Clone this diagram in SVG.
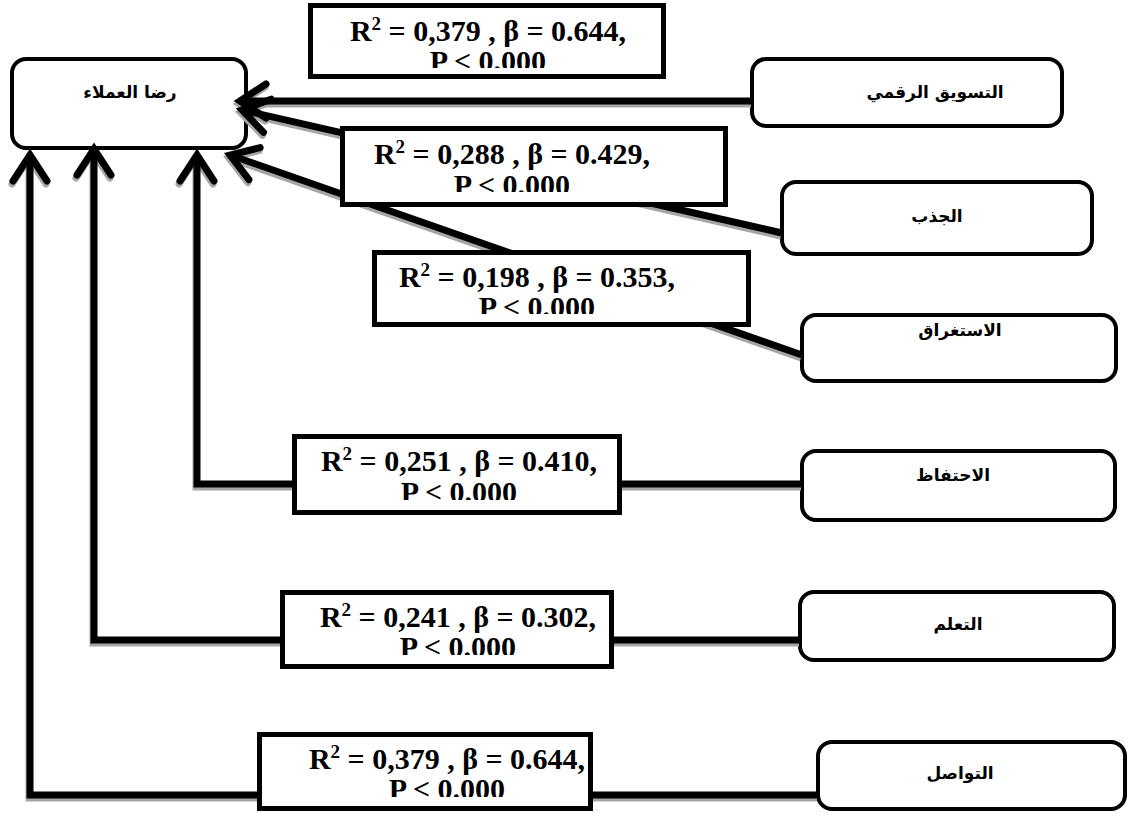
<svg xmlns="http://www.w3.org/2000/svg" width="1129" height="817" viewBox="0 0 1129 817">
<style>
.node{fill:#fff;stroke:#000;stroke-width:4}
.box{fill:#fff;stroke:#000;stroke-width:5}
.lbl{font-family:"DejaVu Sans","Noto Sans",sans-serif;font-weight:bold;font-size:17px;fill:#000;text-anchor:middle}
.stat{font-family:"Liberation Serif","Times New Roman",serif;font-weight:bold;font-size:30px;fill:#000;text-anchor:middle}
.sup{font-size:19px}
.ln{fill:none;stroke:#000;stroke-width:7;stroke-linejoin:miter}
.sh{fill:none;stroke:#a6a6a6;stroke-width:7;stroke-linejoin:miter}
</style>
<defs>
<marker id="ah" markerUnits="userSpaceOnUse" viewBox="-40 -30 50 60" markerWidth="50" markerHeight="60" refX="0" refY="0" orient="auto" overflow="visible">
<path d="M -26 -17 L 0 0 L -26 17" fill="none" stroke="#000" stroke-width="7" stroke-linecap="round" stroke-linejoin="miter"/>
</marker>
<marker id="ahs" markerUnits="userSpaceOnUse" viewBox="-40 -30 50 60" markerWidth="50" markerHeight="60" refX="0" refY="0" orient="auto" overflow="visible">
<path d="M -26 -17 L 0 0 L -26 17" fill="none" stroke="#a6a6a6" stroke-width="7" stroke-linecap="round" stroke-linejoin="miter"/>
</marker>
<clipPath id="c1"><rect x="310" y="5" width="354" height="63"/></clipPath>
<clipPath id="c2"><rect x="342" y="128" width="384" height="64"/></clipPath>
<clipPath id="c3"><rect x="374" y="252" width="375" height="62"/></clipPath>
<clipPath id="c4"><rect x="294" y="436" width="326" height="64"/></clipPath>
<clipPath id="c5"><rect x="282" y="592" width="330" height="63"/></clipPath>
<clipPath id="c6"><rect x="259" y="734" width="332" height="63"/></clipPath>
</defs>

<g id="n-satisfaction"><rect class="node" x="12" y="59" width="234" height="89" rx="14"/><text class="lbl" x="130" y="98">رضا العملاء</text></g>
<g id="n-digital"><rect class="node" x="752" y="59" width="310" height="67" rx="14"/><text class="lbl" x="935" y="98">التسويق الرقمي</text></g>
<g id="n-attraction"><rect class="node" x="782" y="182" width="310" height="72" rx="14"/><text class="lbl" x="937" y="222">الجذب</text></g>
<g id="n-engagement"><rect class="node" x="802" y="315" width="314" height="66" rx="14"/><text class="lbl" x="960" y="336">الاستغراق</text></g>
<g id="n-retention"><rect class="node" x="802" y="451" width="313" height="69" rx="14"/><text class="lbl" x="953" y="481">الاحتفاظ</text></g>
<g id="n-learning"><rect class="node" x="800" y="592" width="314" height="68" rx="14"/><text class="lbl" x="958" y="630">التعلم</text></g>
<g id="n-communication"><rect class="node" x="818" y="742" width="307" height="67" rx="14"/><text class="lbl" x="960" y="779">التواصل</text></g>

<g id="connectors">
<g transform="translate(-1,3)">
<path class="sh" marker-end="url(#ahs)" d="M 752 101 L 240 101"/>
<path class="sh" marker-end="url(#ahs)" d="M 782 233 L 242 110"/>
<path class="sh" marker-end="url(#ahs)" d="M 802 355 L 230 155"/>
<path class="sh" marker-end="url(#ahs)" d="M 802 484 L 197 484 L 197 155"/>
<path class="sh" marker-end="url(#ahs)" d="M 800 640 L 94 640 L 94 149"/>
<path class="sh" marker-end="url(#ahs)" d="M 818 795 L 30 795 L 30 155"/>
</g>
<path class="ln" marker-end="url(#ah)" d="M 752 101 L 240 101"/>
<path class="ln" marker-end="url(#ah)" d="M 782 233 L 242 110"/>
<path class="ln" marker-end="url(#ah)" d="M 802 355 L 230 155"/>
<path class="ln" marker-end="url(#ah)" d="M 802 484 L 197 484 L 197 155"/>
<path class="ln" marker-end="url(#ah)" d="M 800 640 L 94 640 L 94 149"/>
<path class="ln" marker-end="url(#ah)" d="M 818 795 L 30 795 L 30 155"/>
</g>

<g id="b1"><rect class="box" x="310.5" y="5.5" width="353" height="71"/>
<g clip-path="url(#c1)"><text class="stat" x="488" y="41">R<tspan class="sup" dy="-11">2</tspan><tspan dy="11"> = 0,379 , β = 0.644,</tspan></text><text class="stat" x="488" y="71">P &lt; 0.000</text></g></g>
<g id="b2"><rect class="box" x="342.5" y="128.5" width="383" height="76"/>
<g clip-path="url(#c2)"><text class="stat" x="512" y="164">R<tspan class="sup" dy="-11">2</tspan><tspan dy="11"> = 0,288 , β = 0.429,</tspan></text><text class="stat" x="512" y="195">P &lt; 0.000</text></g></g>
<g id="b3"><rect class="box" x="374.5" y="252.5" width="374" height="72"/>
<g clip-path="url(#c3)"><text class="stat" x="537" y="287">R<tspan class="sup" dy="-11">2</tspan><tspan dy="11"> = 0,198 , β = 0.353,</tspan></text><text class="stat" x="537" y="317">P &lt; 0.000</text></g></g>
<g id="b4"><rect class="box" x="294.5" y="436.5" width="325" height="76"/>
<g clip-path="url(#c4)"><text class="stat" x="459" y="471">R<tspan class="sup" dy="-11">2</tspan><tspan dy="11"> = 0,251 , β = 0.410,</tspan></text><text class="stat" x="459" y="502">P &lt; 0.000</text></g></g>
<g id="b5"><rect class="box" x="282.5" y="592.5" width="329" height="74"/>
<g clip-path="url(#c5)"><text class="stat" x="458" y="627">R<tspan class="sup" dy="-11">2</tspan><tspan dy="11"> = 0,241 , β = 0.302,</tspan></text><text class="stat" x="458" y="657">P &lt; 0.000</text></g></g>
<g id="b6"><rect class="box" x="259.5" y="734.5" width="331" height="74"/>
<g clip-path="url(#c6)"><text class="stat" x="447" y="769">R<tspan class="sup" dy="-11">2</tspan><tspan dy="11"> = 0,379 , β = 0.644,</tspan></text><text class="stat" x="447" y="799">P &lt; 0.000</text></g></g>
</svg>
